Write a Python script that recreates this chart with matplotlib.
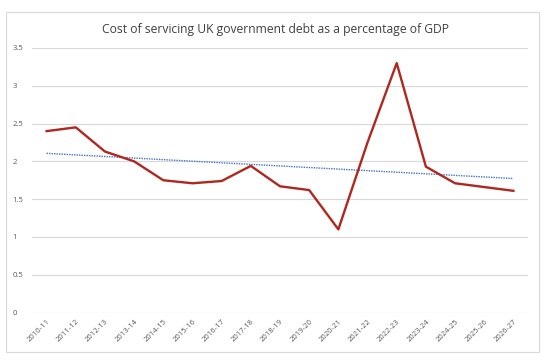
import matplotlib
matplotlib.use("Agg")
from matplotlib import pyplot as plt
from matplotlib.patches import Rectangle
import numpy as np

years = ["2010-11", "2011-12", "2012-13", "2013-14", "2014-15", "2015-16",
         "2016-17", "2017-18", "2018-19", "2019-20", "2020-21", "2021-22",
         "2022-23", "2023-24", "2024-25", "2025-26", "2026-27"]
debt_cost = [2.40, 2.45, 2.13, 2.00, 1.75, 1.71, 1.74, 1.94, 1.67, 1.62,
             1.10, 2.25, 3.30, 1.93, 1.71, 1.66, 1.61]
yticks = [0, 0.5, 1, 1.5, 2, 2.5, 3, 3.5]
ytick_labels = ["0", "0.5", "1", "1.5", "2", "2.5", "3", "3.5"]

plt.rcParams['font.family'] = ['Open Sans', 'DejaVu Sans']

fig = plt.figure(figsize=(5.5, 3.63), dpi=100)
# chart border
fig.patches.append(Rectangle((6/550, 11/363), 533/550, 340/363, transform=fig.transFigure,
                             fill=False, edgecolor="#d9d9d9", linewidth=0.8))

ax = fig.add_axes([32/550, 50.5/363, 496/550, 264.5/363])
x = np.arange(len(years))
ax.plot(x, debt_cost, color="#b0271f", linewidth=1.7, zorder=3)

# linear trendline
coef = np.polyfit(x, debt_cost, 1)
ax.plot(x, np.polyval(coef, x), color="#4472c4", linewidth=1.0, linestyle=(0, (1, 0.8)), zorder=2)

ax.set_xlim(-0.5, len(years) - 0.5)
ax.set_ylim(0, 3.5)
ax.set_yticks(yticks)
ax.set_yticklabels(ytick_labels)
ax.set_xticks(x)
ax.set_xticklabels(years, rotation=45, ha="right", rotation_mode="anchor")
ax.tick_params(axis="both", length=0, labelsize=5.5, labelcolor="#595959")
ax.tick_params(axis="y", pad=14)
ax.tick_params(axis="x", pad=4)
for lbl in ax.get_yticklabels():
    lbl.set_horizontalalignment("left")
ax.grid(axis="y", color="#d9d9d9", linewidth=0.8)
ax.set_axisbelow(True)
for s in ax.spines.values():
    s.set_visible(False)

fig.text(0.5, 1 - 30/363, "Cost of servicing UK government debt as a percentage of GDP",
         ha="center", va="center", fontsize=8.7, color="#404040")

fig.savefig("out.png", dpi=100)
